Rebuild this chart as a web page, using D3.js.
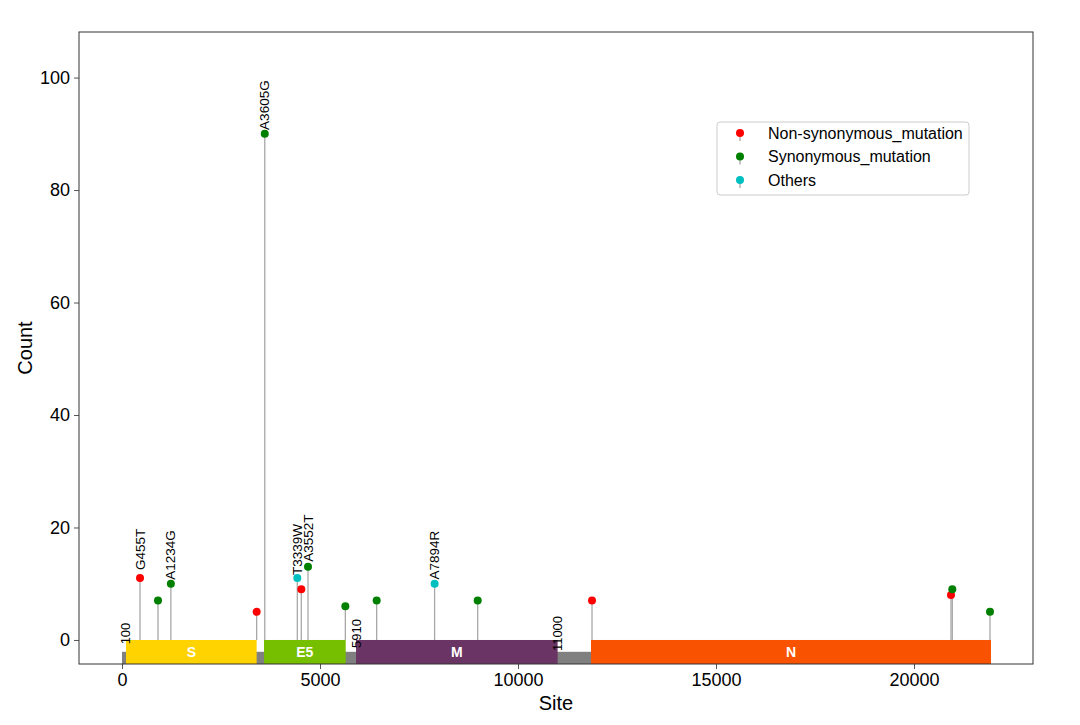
<!DOCTYPE html>
<html>
<head>
<meta charset="utf-8">
<script src="https://cdn.jsdelivr.net/npm/d3@7"></script>
<style>
  body { margin: 0; background: #fff; }
  svg { font-family: "Liberation Sans", Arial, sans-serif; }
</style>
</head>
<body>
<svg id="chart" width="1080" height="725"></svg>
<script>
// ---- data ----
const sites  = [455, 909, 1234, 3400, 3605, 4427, 4528, 4697, 5640, 6431, 7894, 8982, 11869, 20934, 20967, 21919];
const counts = [11, 7, 10, 5, 90, 11, 9, 13, 6, 7, 10, 7, 7, 8, 9, 5];
const types  = ["non", "syn", "syn", "non", "syn", "oth", "non", "syn", "syn", "syn", "oth", "syn", "non", "non", "syn", "syn"];
const labels = ["G455T", "", "A1234G", "", "A3605G", "T3339W", "", "A3552T", "", "", "A7894R", "", "", "", "", ""];

const geneNames  = ["S", "E5", "M", "N"];
const geneStarts = [100, 3586, 5910, 11843];
const geneEnds   = [3400, 5649, 11000, 21944];
const geneColors = ["#FFD300", "#76BE00", "#6A3465", "#F95200"];
const genomeRange = [0, 21944];
const boundaryMarks = [100, 5910, 11000];

const typeKeys   = ["non", "syn", "oth"];
const typeNames  = ["Non-synonymous_mutation", "Synonymous_mutation", "Others"];
const typeColors = ["#ff0000", "#008000", "#00bfbf"];

const xTicks = [0, 5000, 10000, 15000, 20000];
const yTicks = [0, 20, 40, 60, 80, 100];

// ---- layout ----
const svg = d3.select("#chart");
const W = 1080, H = 725;
const m = {left: 79, right: 47, top: 32, bottom: 61};

const x = d3.scaleLinear().domain([-1086, 23005]).range([m.left, W - m.right]);
const y = d3.scaleLinear().domain([-4.27, 108.1]).range([H - m.bottom, m.top]);
const color = d3.scaleOrdinal().domain(typeKeys).range(typeColors);

const plot = svg.append("g");

// backbone
plot.append("rect")
  .attr("x", x(genomeRange[0])).attr("width", x(genomeRange[1]) - x(genomeRange[0]))
  .attr("y", y(-2.1)).attr("height", y(-4.27) - y(-2.1))
  .attr("fill", "#808080");

// genes
const genes = geneNames.map((n, i) => ({name: n, s: geneStarts[i], e: geneEnds[i], c: geneColors[i]}));
plot.selectAll("rect.gene").data(genes).enter().append("rect")
  .attr("class", "gene")
  .attr("x", d => x(d.s)).attr("width", d => x(d.e) - x(d.s))
  .attr("y", y(0)).attr("height", y(-4.27) - y(0))
  .attr("fill", d => d.c);
plot.selectAll("text.gene").data(genes).enter().append("text")
  .attr("x", d => x((d.s + d.e) / 2)).attr("y", y(-2.15))
  .attr("text-anchor", "middle").attr("dominant-baseline", "central")
  .attr("fill", "#fff").attr("font-weight", "bold").attr("font-size", 14)
  .text(d => d.name);

// boundary labels (centred at y = 1)
plot.selectAll("text.bound").data(boundaryMarks).enter().append("text")
  .attr("transform", d => `translate(${x(d)},${y(1.15)}) rotate(-90)`)
  .attr("text-anchor", "middle").attr("dominant-baseline", "central")
  .attr("font-size", 13).attr("fill", "#000")
  .text(d => d);

// mutations
const muts = sites.map((s, i) => ({s, c: counts[i], t: types[i], l: labels[i]}));
plot.selectAll("line.stem").data(muts).enter().append("line")
  .attr("x1", d => x(d.s)).attr("x2", d => x(d.s))
  .attr("y1", y(0)).attr("y2", d => y(d.c))
  .attr("stroke", "#a8a8a8").attr("stroke-width", 1.3);
plot.selectAll("circle.pt").data(muts).enter().append("circle")
  .attr("cx", d => x(d.s)).attr("cy", d => y(d.c)).attr("r", 4)
  .attr("fill", d => color(d.t));
plot.selectAll("text.mut").data(muts.filter(d => d.l)).enter().append("text")
  .attr("transform", d => `translate(${x(d.s)},${y(d.c + 5.1)}) rotate(-90)`)
  .attr("text-anchor", "middle").attr("dominant-baseline", "central")
  .attr("font-size", 13.5).attr("fill", "#000")
  .text(d => d.l);

// axes
const xAxis = svg.append("g").attr("transform", `translate(0,${H - m.bottom})`)
  .call(d3.axisBottom(x).tickValues(xTicks).tickSize(5).tickPadding(4).tickFormat(d3.format("d")));
const yAxis = svg.append("g").attr("transform", `translate(${m.left},0)`)
  .call(d3.axisLeft(y).tickValues(yTicks).tickSize(5).tickPadding(4));
[xAxis, yAxis].forEach(a => {
  a.selectAll("text").attr("font-size", 18).attr("fill", "#000").attr("font-family", "Liberation Sans, Arial, sans-serif");
  a.selectAll("line").attr("stroke", "#555");
  a.select(".domain").remove();
});

// frame
svg.append("rect")
  .attr("x", m.left).attr("y", m.top)
  .attr("width", W - m.left - m.right).attr("height", H - m.top - m.bottom)
  .attr("fill", "none").attr("stroke", "#333").attr("stroke-width", 1);

// axis titles
svg.append("text").attr("x", x(10960)).attr("y", 710)
  .attr("text-anchor", "middle").attr("font-size", 20).text("Site");
svg.append("text").attr("transform", `translate(32,${(m.top + H - m.bottom) / 2}) rotate(-90)`)
  .attr("text-anchor", "middle").attr("font-size", 20).text("Count");

// legend
const lg = svg.append("g").attr("transform", "translate(717,122)");
lg.append("rect").attr("width", 252).attr("height", 73).attr("rx", 3)
  .attr("fill", "#fff").attr("stroke", "#ccc").attr("stroke-width", 1);
typeKeys.forEach((k, i) => {
  const yy = 11 + i * 23.5;
  lg.append("line").attr("x1", 23).attr("x2", 23).attr("y1", yy).attr("y2", yy + 8)
    .attr("stroke", "#a8a8a8").attr("stroke-width", 1.3);
  lg.append("circle").attr("cx", 23).attr("cy", yy).attr("r", 4).attr("fill", typeColors[i]);
  lg.append("text").attr("x", 51).attr("y", yy + 5.5).attr("font-size", 16).attr("fill", "#000").text(typeNames[i]);
});
</script>
</body>
</html>
